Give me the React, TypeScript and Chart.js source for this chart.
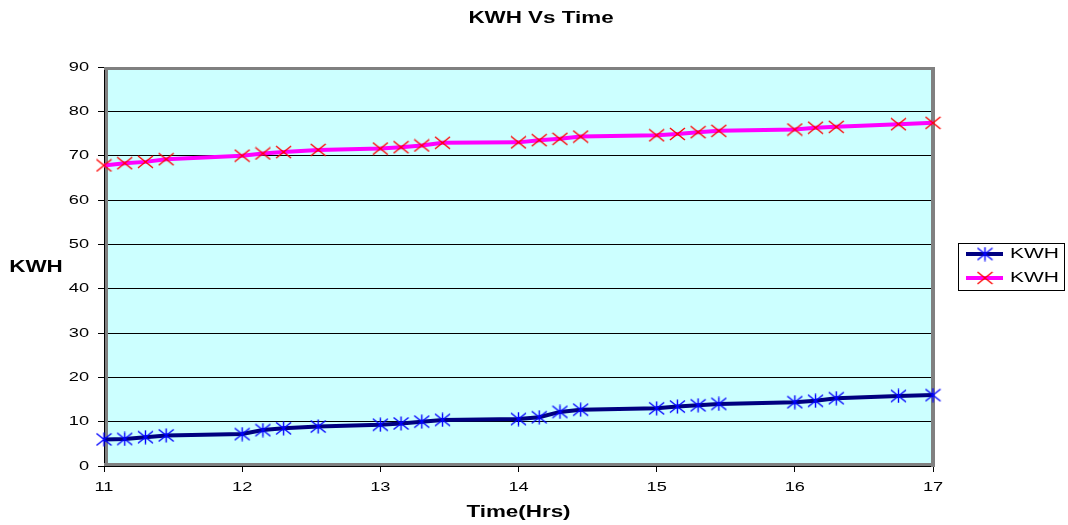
import React, { useEffect, useRef } from "react";
import { Chart, registerables } from "chart.js";

Chart.register(...registerables);

const chartTitle = "KWH Vs Time";
const xAxisTitle = "Time(Hrs)";
const yAxisTitle = "KWH";
const seriesNames = ["KWH", "KWH"];

const times = [11, 11.15, 11.3, 11.45, 12, 12.15, 12.3, 12.55, 13, 13.15, 13.3, 13.45, 14, 14.15, 14.3, 14.45, 15, 15.15, 15.3, 15.45, 16, 16.15, 16.3, 16.75, 17];
const kwhBlue = [6.0, 6.1, 6.5, 6.9, 7.2, 8.1, 8.5, 8.9, 9.3, 9.6, 10.0, 10.4, 10.6, 11.0, 12.2, 12.7, 13.0, 13.4, 13.7, 14.0, 14.4, 14.7, 15.3, 15.8, 16.0];
const kwhPink = [67.8, 68.3, 68.6, 69.2, 70.0, 70.5, 70.8, 71.3, 71.6, 71.9, 72.3, 72.9, 73.0, 73.5, 73.8, 74.3, 74.6, 74.9, 75.3, 75.6, 75.9, 76.3, 76.5, 77.1, 77.4];

const xTickValues = [11, 12, 13, 14, 15, 16, 17];
const yTickValues = [0, 10, 20, 30, 40, 50, 60, 70, 80, 90];

const FONT = "'Liberation Sans', Arial, sans-serif";
const SX = 1.4;

function stretchText(
  ctx: CanvasRenderingContext2D,
  text: string,
  x: number,
  y: number,
  font: string,
  align: "left" | "center" | "right",
  color = "#000"
) {
  ctx.save();
  ctx.font = font;
  ctx.fillStyle = color;
  ctx.textBaseline = "middle";
  ctx.textAlign = "left";
  const w = ctx.measureText(text).width * SX;
  const left = align === "left" ? x : align === "center" ? x - w / 2 : x - w;
  ctx.translate(left, y);
  ctx.scale(SX, 1);
  ctx.fillText(text, 0, 0);
  ctx.restore();
}

function makeStar(): HTMLCanvasElement {
  const c = document.createElement("canvas");
  c.width = 17;
  c.height = 15;
  const g = c.getContext("2d")!;
  g.strokeStyle = "#0000FF";
  g.lineWidth = 1.4;
  g.beginPath();
  g.moveTo(8.5, 0.5);
  g.lineTo(8.5, 14.5);
  g.moveTo(1, 1.5);
  g.lineTo(16, 13.5);
  g.moveTo(16, 1.5);
  g.lineTo(1, 13.5);
  g.stroke();
  return c;
}

function makeCross(): HTMLCanvasElement {
  const c = document.createElement("canvas");
  c.width = 17;
  c.height = 14;
  const g = c.getContext("2d")!;
  g.strokeStyle = "#FF0000";
  g.lineWidth = 1.4;
  g.beginPath();
  g.moveTo(1, 1);
  g.lineTo(16, 13);
  g.moveTo(16, 1);
  g.lineTo(1, 13);
  g.stroke();
  return c;
}

export default function App() {
  const canvasRef = useRef<HTMLCanvasElement | null>(null);

  useEffect(() => {
    const canvas = canvasRef.current;
    if (!canvas) return;
    const star = makeStar();
    const cross = makeCross();

    const decorPlugin = {
      id: "decor",
      beforeDraw(chart: any) {
        const { ctx, chartArea: a } = chart;
        ctx.save();
        ctx.fillStyle = "#FFFFFF";
        ctx.fillRect(0, 0, chart.width, chart.height);
        ctx.fillStyle = "#CCFFFF";
        ctx.fillRect(a.left, a.top, a.right - a.left, a.bottom - a.top);
        ctx.restore();
      },
      beforeDatasetsDraw(chart: any) {
        const { ctx, chartArea: a } = chart;
        ctx.save();
        ctx.fillStyle = "#808080";
        // top
        ctx.fillRect(a.left, a.top, a.right - a.left + 2, 3);
        // right
        ctx.fillRect(a.right - 2, a.top, 4, a.bottom - a.top + 1);
        // left (inside black axis)
        ctx.fillRect(a.left + 1, a.top, 3, a.bottom - a.top);
        // bottom (above black axis)
        ctx.fillRect(a.left, a.bottom - 3, a.right - a.left, 3);
        ctx.restore();
      },
      afterDraw(chart: any) {
        const { ctx, chartArea: a } = chart;
        const xs = chart.scales.x;
        const ys = chart.scales.y;
        const tickFont = `13px ${FONT}`;
        xs.ticks.forEach((t: any) => {
          stretchText(ctx, String(t.value), xs.getPixelForValue(t.value), 487, tickFont, "center");
        });
        ys.ticks.forEach((t: any) => {
          stretchText(ctx, String(t.value), 89, ys.getPixelForValue(t.value), tickFont, "right");
        });
        const boldFont = `bold 16px ${FONT}`;
        stretchText(ctx, chartTitle, 541, 19, boldFont, "center");
        stretchText(ctx, xAxisTitle, (a.left + a.right) / 2, 513, boldFont, "center");
        stretchText(ctx, yAxisTitle, 36, 268, boldFont, "center");

        // legend
        ctx.save();
        ctx.strokeStyle = "#000";
        ctx.lineWidth = 1;
        ctx.strokeRect(958.5, 243.5, 106, 47);
        const rows = [
          { y: 254, color: chart.data.datasets[0].borderColor, marker: star },
          { y: 278, color: chart.data.datasets[1].borderColor, marker: cross },
        ];
        rows.forEach((r, i) => {
          ctx.strokeStyle = r.color;
          ctx.lineWidth = 4;
          ctx.beginPath();
          ctx.moveTo(966, r.y);
          ctx.lineTo(1003, r.y);
          ctx.stroke();
          ctx.drawImage(r.marker, 985 - r.marker.width / 2, r.y - r.marker.height / 2);
          stretchText(ctx, seriesNames[i], 1010, r.y, `15px ${FONT}`, "left");
        });
        ctx.restore();
      },
    };

    const chart = new Chart(canvas, {
      type: "line",
      data: {
        datasets: [
          {
            label: seriesNames[0],
            data: times.map((t, i) => ({ x: t, y: kwhBlue[i] })),
            borderColor: "#000080",
            backgroundColor: "#000080",
            borderWidth: 4,
            pointStyle: star as any,
            pointRadius: 7,
            tension: 0,
            clip: false as any,
          },
          {
            label: seriesNames[1],
            data: times.map((t, i) => ({ x: t, y: kwhPink[i] })),
            borderColor: "#FF00FF",
            backgroundColor: "#FF00FF",
            borderWidth: 4,
            pointStyle: cross as any,
            pointRadius: 7,
            tension: 0,
            clip: false as any,
          },
        ],
      },
      options: {
        animation: false,
        responsive: false,
        maintainAspectRatio: false,
        devicePixelRatio: 1,
        layout: { padding: { left: 0, top: 67, right: 135, bottom: 0 } },
        plugins: {
          legend: { display: false },
          title: { display: false },
          tooltip: { enabled: false },
        },
        scales: {
          x: {
            type: "linear",
            min: 11,
            max: 17,
            afterFit: (s: any) => {
              s.height = 59;
            },
            afterBuildTicks: (s: any) => {
              s.ticks = xTickValues.map((v) => ({ value: v }));
            },
            ticks: { display: false },
            grid: {
              drawOnChartArea: false,
              drawTicks: true,
              tickLength: 6,
              color: "#000000",
              lineWidth: 1,
            },
            border: { display: true, color: "#000000", width: 1 },
          },
          y: {
            type: "linear",
            min: 0,
            max: 90,
            afterFit: (s: any) => {
              s.width = 104;
            },
            afterBuildTicks: (s: any) => {
              s.ticks = yTickValues.map((v) => ({ value: v }));
            },
            ticks: { display: false },
            grid: {
              drawOnChartArea: true,
              drawTicks: true,
              tickLength: 6,
              color: "#000000",
              lineWidth: 1,
            },
            border: { display: true, color: "#000000", width: 1 },
          },
        },
      } as any,
      plugins: [decorPlugin],
    });

    return () => {
      chart.destroy();
    };
  }, []);

  return (
    <div
      style={{
        position: "fixed",
        left: 0,
        top: 0,
        width: 1068,
        height: 525,
        background: "#FFFFFF",
      }}
    >
      <canvas ref={canvasRef} width={1068} height={525} style={{ display: "block", width: 1068, height: 525 }} />
    </div>
  );
}
